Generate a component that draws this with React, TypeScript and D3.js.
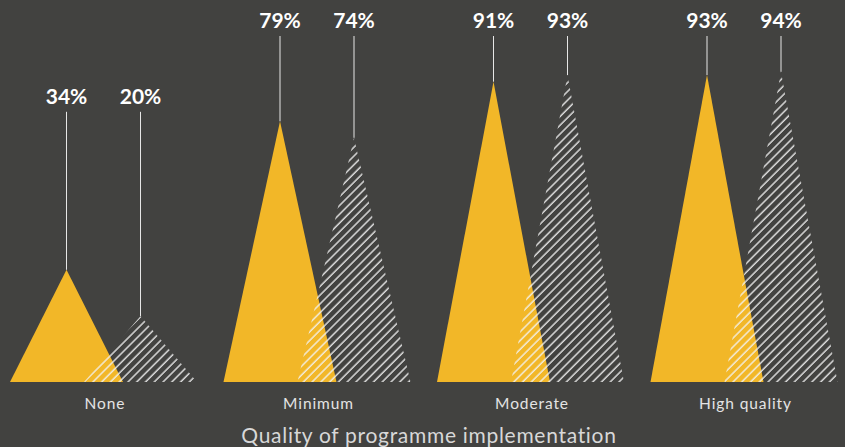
import React from "react";
import * as d3 from "d3";

const categories = ["None", "Minimum", "Moderate", "High quality"];
const seriesNames = ["Solid", "Hatched"];
const solidValues = [34, 79, 91, 93];
const hatchedValues = [20, 74, 93, 94];
const axisTitle = "Quality of programme implementation";

const W = 845;
const H = 447;
const BG = "#424240";
const YELLOW = "#F2B728";
const FONT = "Lato, 'Open Sans', sans-serif";

export default function App() {
  const x = d3
    .scaleBand<string>()
    .domain(categories)
    .range([10, 10 + 4 * 213.5]);
  const offset = d3.scalePoint<string>().domain(seriesNames).range([56.5, 130.5]);
  const y = d3.scaleLinear().domain([0, 100]).range([382, 52]);
  const halfW = 56.5;

  const tri = (cx: number, v: number) => {
    const p = d3.path();
    p.moveTo(cx - halfW, y(0));
    p.lineTo(cx, y(v));
    p.lineTo(cx + halfW, y(0));
    p.closePath();
    return p.toString();
  };

  return (
    <svg
      width={W}
      height={H}
      style={{ position: "absolute", left: 0, top: 0, display: "block" }}
    >
      <defs>
        <pattern
          id="hatch"
          patternUnits="userSpaceOnUse"
          width={6.2}
          height={6.2}
          patternTransform="rotate(45)"
        >
          <line x1={1} y1={0} x2={1} y2={6.2} stroke="#f2f2f2" strokeWidth={1.3} />
        </pattern>
      </defs>
      <rect x={0} y={0} width={W} height={H} fill={BG} />
      {categories.map((c, i) => {
        const left = x(c) as number;
        const cs = left + (offset(seriesNames[0]) as number);
        const ch = left + (offset(seriesNames[1]) as number);
        const groupMax = Math.max(solidValues[i], hatchedValues[i]);
        const labelBase = Math.max(28, y(groupMax) - 166);
        const lineTop = labelBase + 8;
        return (
          <g key={c}>
            <path d={tri(cs, solidValues[i])} fill={YELLOW} />
            <path d={tri(ch, hatchedValues[i])} fill="url(#hatch)" />
            <line
              x1={cs}
              x2={cs}
              y1={lineTop}
              y2={y(solidValues[i])}
              stroke="#e6e6e6"
              strokeWidth={1}
            />
            <line
              x1={ch}
              x2={ch}
              y1={lineTop}
              y2={y(hatchedValues[i])}
              stroke="#e6e6e6"
              strokeWidth={1}
            />
            <text
              x={cs}
              y={labelBase}
              textAnchor="middle"
              fill="#ffffff"
              fontFamily={FONT}
              fontWeight={700}
              fontSize={21}
            >
              {solidValues[i]}%
            </text>
            <text
              x={ch}
              y={labelBase}
              textAnchor="middle"
              fill="#ffffff"
              fontFamily={FONT}
              fontWeight={700}
              fontSize={21}
            >
              {hatchedValues[i]}%
            </text>
            <text
              x={left + 95}
              y={409}
              textAnchor="middle"
              fill="#e4e4e4"
              fontFamily={FONT}
              fontSize={15.5}
              letterSpacing={0.9}
            >
              {c}
            </text>
          </g>
        );
      })}
      <text
        x={429}
        y={443}
        textAnchor="middle"
        fill="#d8d8d8"
        fontFamily={FONT}
        fontSize={21}
        letterSpacing={0.7}
      >
        {axisTitle}
      </text>
    </svg>
  );
}
